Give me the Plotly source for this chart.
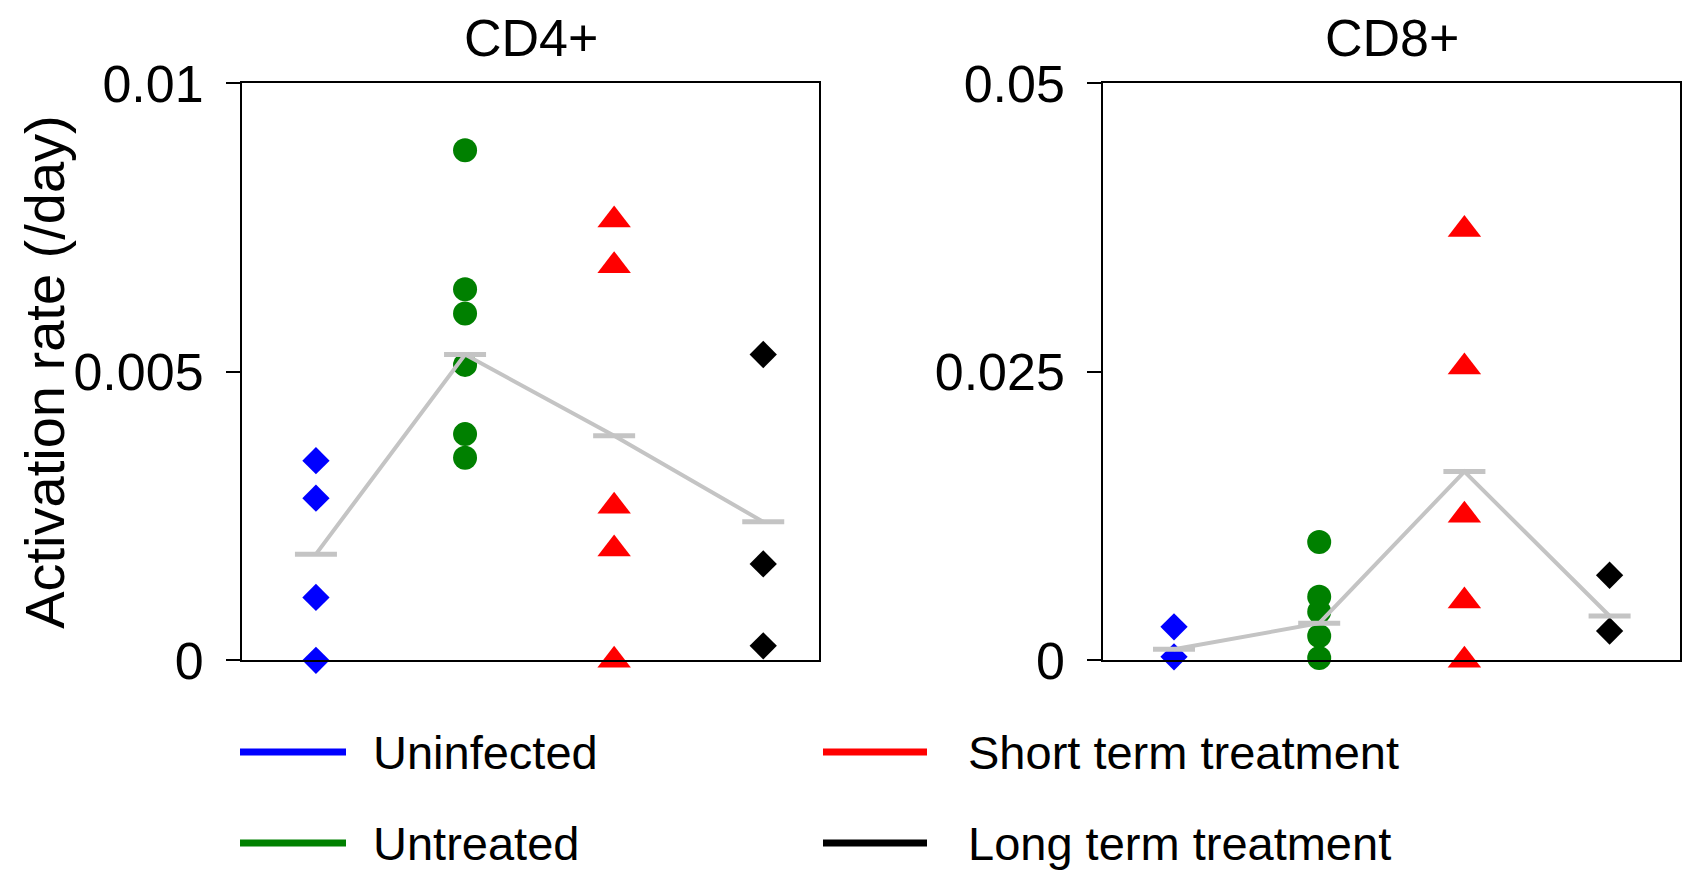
import plotly.graph_objects as go

# ---------------- data ----------------
groups = ["Uninfected", "Untreated", "Short term treatment", "Long term treatment"]
colors = ["#0000ff", "#008000", "#ff0000", "#000000"]
symbols = ["diamond", "circle", "triangle-up", "diamond"]
marker_sizes = [21, 24, 29, 21]

cd4_uninfected = [0.00346, 0.00281, 0.00109, 0.0]
cd4_untreated = [0.00884, 0.00643, 0.00601, 0.00512, 0.00392, 0.00351]
cd4_short = [0.00763, 0.00684, 0.00267, 0.00193, 0.0]
cd4_long = [0.00530, 0.00167, 0.00025]
cd4_means = [0.00184, 0.00530, 0.00389, 0.00240]

cd8_uninfected = [0.0029, 0.0003]
cd8_untreated = [0.01025, 0.0055, 0.0042, 0.0021, 0.0002]
cd8_short = [0.03734, 0.02541, 0.01258, 0.00514, 0.0]
cd8_long = [0.00737, 0.00254]
cd8_means = [0.00095, 0.00322, 0.01635, 0.00384]

panel_titles = ["CD4+", "CD8+"]
cd4_tickvals = [0, 0.005, 0.01]
cd4_ticktext = ["0", "0.005", "0.01"]
cd8_tickvals = [0, 0.025, 0.05]
cd8_ticktext = ["0", "0.025", "0.05"]
y_title = "Activation rate (/day)"

# ---------------- figure ----------------
W, H = 1686, 872
FONT = "Liberation Sans, Arial, sans-serif"
GREY = "#c4c4c4"

fig = go.Figure()

panels = [
    ("x", "y", [cd4_uninfected, cd4_untreated, cd4_short, cd4_long], cd4_means),
    ("x2", "y2", [cd8_uninfected, cd8_untreated, cd8_short, cd8_long], cd8_means),
]

for xa, ya, series, means in panels:
    for i, vals in enumerate(series):
        fig.add_trace(go.Scatter(
            x=[i] * len(vals), y=vals, mode="markers",
            marker=dict(symbol=symbols[i], color=colors[i], size=marker_sizes[i],
                        line=dict(width=0)),
            xaxis=xa, yaxis=ya, cliponaxis=False, showlegend=False, name=groups[i]))
    fig.add_trace(go.Scatter(
        x=list(range(len(means))), y=means, mode="lines+markers",
        line=dict(color=GREY, width=4),
        marker=dict(symbol="line-ew", size=30, color=GREY,
                    line=dict(color=GREY, width=5)),
        xaxis=xa, yaxis=ya, cliponaxis=False, showlegend=False, name="mean"))

def px_x(p):
    return p / W

def px_y(p):
    return 1 - p / H

x1_dom = [px_x(242), px_x(819)]
x2_dom = [px_x(1103.3), px_x(1680.3)]
y_dom = [px_y(660.3), px_y(83.3)]

ax_common = dict(showline=True, linecolor="black", linewidth=2, mirror=True,
                 showgrid=False, zeroline=False, automargin=False)
xcommon = dict(ax_common, ticks="", showticklabels=False)
ycommon = dict(ax_common, ticks="outside", ticklen=14, tickwidth=2, tickcolor="black",
               tickfont=dict(family=FONT, size=52, color="black"),
               ticklabelstandoff=12)

fig.update_layout(
    template="none",
    width=W, height=H,
    margin=dict(l=0, r=0, t=0, b=0, pad=0),
    paper_bgcolor="white", plot_bgcolor="white",
    xaxis=dict(xcommon, domain=x1_dom, range=[-0.496, 3.374]),
    xaxis2=dict(xcommon, domain=x2_dom, range=[-0.487, 3.487], anchor="y2"),
    yaxis=dict(ycommon, domain=y_dom, range=[0, 0.01],
               tickvals=cd4_tickvals, ticktext=cd4_ticktext),
    yaxis2=dict(ycommon, domain=y_dom, range=[0, 0.05], anchor="x2",
                tickvals=cd8_tickvals, ticktext=cd8_ticktext),
    showlegend=False,
)

annotations = []
# panel titles
for title, dom in zip(panel_titles, [x1_dom, x2_dom]):
    annotations.append(dict(text=title, x=(dom[0] + dom[1]) / 2, y=px_y(38),
                            xref="paper", yref="paper", xanchor="center", yanchor="middle",
                            showarrow=False, font=dict(family=FONT, size=52, color="black")))
# y-axis title
annotations.append(dict(text=y_title, x=px_x(45), y=(y_dom[0] + y_dom[1]) / 2,
                        xref="paper", yref="paper", xanchor="center", yanchor="middle",
                        textangle=-90, showarrow=False,
                        font=dict(family=FONT, size=56, color="black")))

# manual legend (2 columns x 2 rows)
legend_order = [0, 2, 1, 3]
line_x = [(240, 346), (823, 927)]
text_x = [371, 966]
row_y = [752, 843]
shapes = []
for k, gi in enumerate(legend_order):
    col, row = k % 2, k // 2
    yy = px_y(row_y[row])
    shapes.append(dict(type="line", xref="paper", yref="paper",
                       x0=px_x(line_x[col][0]), x1=px_x(line_x[col][1]), y0=yy, y1=yy,
                       line=dict(color=colors[gi], width=7)))
    annotations.append(dict(text=groups[gi], x=px_x(text_x[col]), y=yy,
                            xref="paper", yref="paper", xanchor="left", yanchor="middle",
                            showarrow=False, font=dict(family=FONT, size=47, color="black")))

fig.update_layout(annotations=annotations, shapes=shapes)

fig.write_html(
    "out.html",
    config={"displayModeBar": False},
    post_script="document.body.style.margin='0px';document.body.style.padding='0px';"
                "document.body.style.overflow='hidden';",
)
